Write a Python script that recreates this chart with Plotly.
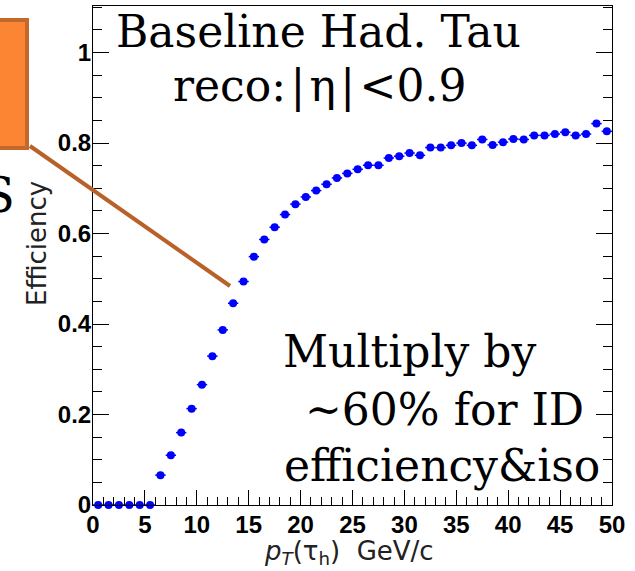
import plotly.graph_objects as go

# Reconstructed hadronic-tau efficiency vs pT (1 GeV bins)
pt_bins = [0.5, 1.5, 2.5, 3.5, 4.5, 5.5, 6.5, 7.5, 8.5, 9.5,
           10.5, 11.5, 12.5, 13.5, 14.5, 15.5, 16.5, 17.5, 18.5, 19.5,
           20.5, 21.5, 22.5, 23.5, 24.5, 25.5, 26.5, 27.5, 28.5, 29.5,
           30.5, 31.5, 32.5, 33.5, 34.5, 35.5, 36.5, 37.5, 38.5, 39.5,
           40.5, 41.5, 42.5, 43.5, 44.5, 45.5, 46.5, 47.5, 48.5, 49.5]
efficiency = [0.0, 0.0, 0.0, 0.0, 0.0, 0.0, 0.066, 0.110, 0.160, 0.213,
              0.266, 0.329, 0.387, 0.446, 0.494, 0.549, 0.587, 0.614, 0.642, 0.665,
              0.681, 0.695, 0.709, 0.723, 0.733, 0.742, 0.751, 0.751, 0.767, 0.771,
              0.778, 0.773, 0.790, 0.790, 0.795, 0.800, 0.795, 0.808, 0.796, 0.802,
              0.809, 0.808, 0.817, 0.817, 0.820, 0.824, 0.817, 0.820, 0.843, 0.826]
bin_half_width = [0.5] * len(pt_bins)

x_ticks = [0, 5, 10, 15, 20, 25, 30, 35, 40, 45, 50]
y_ticks = [0, 0.2, 0.4, 0.6, 0.8, 1.0]
y_tick_text = ["0", "0.2", "0.4", "0.6", "0.8", "1"]

W, H = 635, 571
L, R, T, B = 93, 23, 6, 66
PW, PH = W - L - R, H - T - B


def px(xpix):
    return (xpix - L) / PW


def py(ypix):
    return (H - B - ypix) / PH


fig = go.Figure()
fig.add_trace(go.Scatter(
    x=pt_bins, y=efficiency, mode="markers",
    marker=dict(color="#0000ff", size=8, symbol="circle"),
    error_x=dict(type="data", array=bin_half_width, color="#0000ff",
                 thickness=1.5, width=0),
    cliponaxis=False, showlegend=False,
))

serif = "DejaVu Serif"
sans = "DejaVu Sans"
txt = dict(family=serif, size=44, color="black")
hs = "\u200a"

annotations = [
    dict(text="Baseline Had. Tau", x=px(318), y=py(31), xanchor="center", yanchor="middle"),
    dict(text=f"reco:{hs}|{hs}\u03b7{hs}|{hs}<0.9", x=px(319), y=py(86),
         xanchor="center", yanchor="middle"),
    dict(text="Multiply by", x=px(281), y=py(351), xanchor="left", yanchor="middle"),
    dict(text="~60% for ID", x=px(303), y=py(409), xanchor="left", yanchor="middle"),
    dict(text="efficiency&amp;iso", x=px(282), y=py(465), xanchor="left", yanchor="middle"),
    dict(text="S", x=px(-2), y=py(195), xanchor="center", yanchor="middle",
         font=dict(family=serif, size=48, color="black")),
]
for a in annotations:
    a.setdefault("font", txt)
    a.update(xref="paper", yref="paper", showarrow=False)

annotations.append(dict(
    text="<i>p</i><sub><i>T</i></sub>(\u03c4<sub>h</sub>)&nbsp;&nbsp;GeV/c",
    x=px(349), y=py(552), xref="paper", yref="paper", showarrow=False,
    xanchor="center", yanchor="middle",
    font=dict(family=sans, size=26, color="#222222")))
annotations.append(dict(
    text="Efficiency", textangle=-90,
    x=px(37), y=py(244), xref="paper", yref="paper", showarrow=False,
    xanchor="center", yanchor="middle",
    font=dict(family=sans, size=26, color="#222222")))

shapes = [
    dict(type="rect", xref="paper", yref="paper",
         x0=px(-20), x1=px(27), y0=py(148), y1=py(20),
         fillcolor="#fc8533", line=dict(color="#c4692c", width=4), layer="above"),
    dict(type="line", xref="paper", yref="paper",
         x0=px(30), y0=py(146), x1=px(230), y1=py(286),
         line=dict(color="#b8622a", width=4), layer="above"),
]

tickfont = dict(family="Arial, Liberation Sans", size=24, color="black", weight=700)
fig.update_layout(
    width=W, height=H,
    margin=dict(l=L, r=R, t=T, b=B),
    paper_bgcolor="white", plot_bgcolor="white",
    annotations=annotations, shapes=shapes,
    xaxis=dict(range=[0, 50], tickvals=x_ticks, ticks="inside", ticklen=15,
               tickwidth=1, tickcolor="black", showline=True, linecolor="black",
               linewidth=1, mirror=True, showgrid=False, zeroline=False,
               tickfont=tickfont, ticklabelstandoff=-2,
               minor=dict(dtick=1, ticks="inside", ticklen=8, tickcolor="black",
                          showgrid=False)),
    yaxis=dict(range=[0, 1.103], tickvals=y_ticks, ticktext=y_tick_text,
               ticks="inside", ticklen=16,
               tickwidth=1, tickcolor="black", showline=True, linecolor="black",
               linewidth=1, mirror="ticks", showgrid=False, zeroline=False,
               tickfont=tickfont, ticklabelstandoff=-4,
               minor=dict(dtick=0.05, ticks="inside", ticklen=9, tickcolor="black",
                          showgrid=False)),
)

fig.write_html("out.html")
